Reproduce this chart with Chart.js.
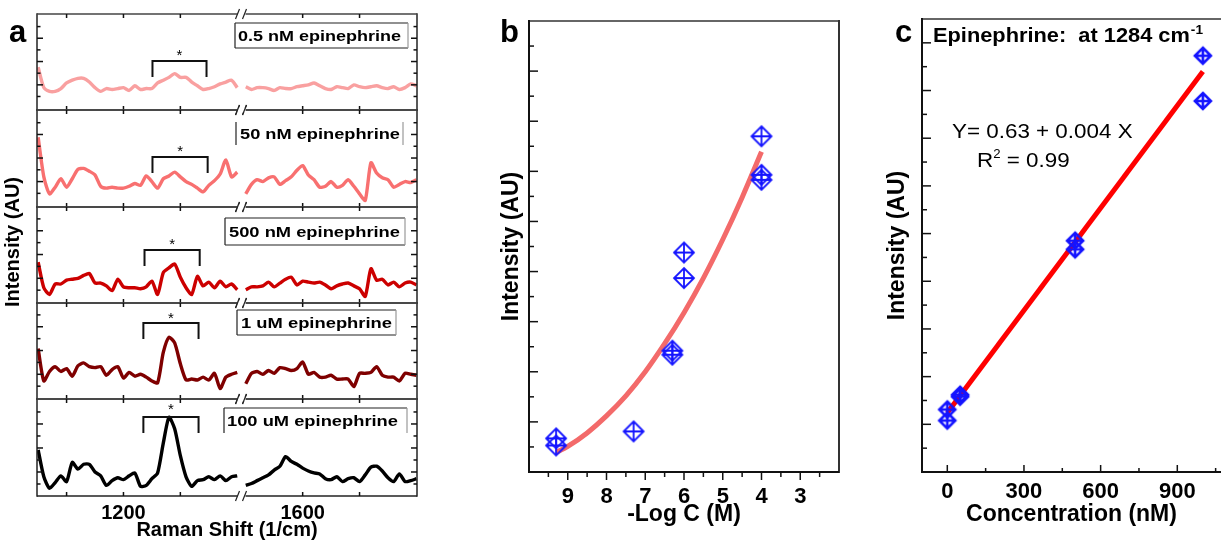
<!DOCTYPE html>
<html>
<head>
<meta charset="utf-8">
<script src="https://cdn.jsdelivr.net/npm/chart.js@4.4.1/dist/chart.umd.min.js"></script>
<style>
  html, body { margin: 0; padding: 0; background: #fff; }
  body { width: 1230px; height: 543px; position: relative; overflow: hidden;
         font-family: Arial, "Liberation Sans", sans-serif; }
  canvas { position: absolute; }
  .tag { position: absolute; z-index: 5; font-weight: bold; font-size: 31px; line-height: 30px; color: #000; }
  .ytitle { position: absolute; z-index: 5; font-weight: bold; font-size: 20px; white-space: nowrap;
            transform: translate(-50%, -50%) rotate(-90deg); }
</style>
</head>
<body>
<div class="tag" style="left:9px;top:17px">a</div>
<div class="tag" style="left:500px;top:17px">b</div>
<div class="tag" style="left:895px;top:17px">c</div>
<div class="ytitle" style="left:12px;top:242px">Intensity (AU)</div>

<script>
Chart.defaults.font.family = 'Arial, "Liberation Sans", sans-serif';
Chart.defaults.color = '#000';

// ---------- panel a : Raman spectra (intensity in % of each sub-panel height) ----------
const shiftLeft = [1050, 1060, 1070, 1080, 1090, 1100, 1110, 1120, 1130, 1140, 1150, 1160,
  1170, 1180, 1190, 1200, 1210, 1220, 1230, 1240, 1250, 1260, 1270, 1280, 1290, 1300,
  1310, 1320, 1330, 1340, 1350, 1360, 1370, 1380, 1390, 1400];
const shiftRight = [1500, 1510, 1520, 1530, 1540, 1550, 1560, 1570, 1580, 1590, 1600,
  1610, 1620, 1630, 1640, 1650, 1660, 1670, 1680, 1690, 1700, 1710, 1720, 1730, 1740,
  1750, 1760, 1770, 1780, 1790, 1800];
const ramanTickLabels = [1200, 1600];
const ramanMinorTicks = [1100, 1300, 1700];

const spec05nM_L = [44, 22, 18, 18, 21, 27, 30, 32, 32, 28, 22, 18, 21, 20, 21, 22, 19, 24,
  20, 21, 21, 27, 30, 33, 37, 33, 33, 28, 24, 20, 21, 23, 26, 28, 30, 22];
const spec05nM_R = [23, 20, 22, 22, 21, 19, 22, 21, 21, 23, 24, 25, 27, 24, 21, 20, 23, 22,
  21, 25, 23, 22, 23, 24, 22, 21, 23, 20, 22, 26, 24];
const spec50nM_L = [72, 30, 12, 19, 28, 19, 28, 38, 39, 36, 32, 20, 18, 19, 18, 18, 20, 23,
  21, 31, 25, 18, 28, 31, 35, 30, 25, 22, 18, 14, 21, 26, 33, 48, 30, 35];
const spec50nM_R = [12, 22, 27, 25, 29, 30, 22, 26, 30, 37, 42, 32, 27, 19, 20, 25, 19, 21,
  27, 20, 12, 5, 45, 34, 29, 27, 19, 22, 25, 24, 27];
const spec500nM_L = [42, 15, 8, 19, 19, 23, 24, 25, 28, 30, 20, 20, 17, 12, 24, 16, 15, 15,
  14, 16, 22, 8, 31, 36, 40, 26, 15, 8, 27, 17, 21, 15, 22, 16, 19, 13];
const spec500nM_R = [13, 16, 16, 17, 21, 16, 20, 24, 26, 18, 22, 21, 20, 21, 18, 14, 17, 19,
  20, 17, 14, 6, 35, 23, 24, 18, 21, 16, 20, 21, 18];
const spec1uM_L = [52, 18, 28, 33, 28, 31, 23, 34, 37, 33, 32, 33, 24, 30, 33, 21, 27, 23,
  25, 22, 18, 16, 48, 64, 58, 36, 19, 20, 19, 22, 19, 26, 10, 22, 25, 27];
const spec1uM_R = [15, 26, 28, 25, 29, 26, 32, 31, 29, 31, 38, 25, 27, 22, 22, 24, 20, 20,
  20, 12, 26, 26, 27, 33, 24, 22, 22, 18, 26, 25, 24];
const spec100uM_L = [48, 20, 8, 14, 21, 15, 35, 28, 33, 33, 25, 21, 11, 16, 19, 17, 21, 24,
  10, 11, 18, 24, 55, 82, 70, 42, 20, 10, 16, 17, 20, 17, 21, 16, 20, 21];
const spec100uM_R = [11, 13, 16, 19, 22, 27, 31, 41, 36, 33, 29, 26, 24, 23, 18, 17, 20, 15,
  18, 19, 15, 22, 30, 31, 26, 19, 15, 23, 15, 16, 18];

const spectraLabels = ['0.5 nM epinephrine', '50 nM epinephrine', '500 nM epinephrine',
  '1 uM epinephrine', '100 uM epinephrine'];
const spectraLeft = [spec05nM_L, spec50nM_L, spec500nM_L, spec1uM_L, spec100uM_L];
const spectraRight = [spec05nM_R, spec50nM_R, spec500nM_R, spec1uM_R, spec100uM_R];
const spectraColors = ['#f9a0a0', '#f87070', '#cc0000', '#7f0000', '#000000'];

// ---------- panel b ----------
const negLogC = [9.3, 9.3, 7.3, 6.3, 6.3, 6.0, 6.0, 4.0, 4.0, 4.0];
const intensityB = [0.67, 0.53, 0.81, 2.42, 2.34, 4.38, 3.87, 6.70, 5.93, 5.83];
const fitB_x = [9.3, 9.0, 8.5, 8.0, 7.5, 7.0, 6.5, 6.0, 5.5, 5.0, 4.5, 4.0];
const fitB_y = [0.39, 0.51, 0.78, 1.12, 1.52, 2.00, 2.56, 3.18, 3.87, 4.64, 5.48, 6.39];
const logTicks = [9, 8, 7, 6, 5, 4, 3];

// ---------- panel c ----------
const concNM = [0, 0, 50, 50, 500, 500, 1000, 1000];
const intensityC = [1.31, 1.08, 1.62, 1.58, 4.85, 4.67, 8.73, 7.78];
const fitC_x = [0, 1000];
const fitC_y = [1.24, 8.40];
const concTicks = [0, 300, 600, 900];

// axis break for panel a: everything above 1450 cm-1 is shifted left by 85
const BREAK_W = 1450, BREAK_SHIFT = 85, BREAK_P = 1407.5;
const toAxis = w => (w > BREAK_W ? w - BREAK_SHIFT : w);
const fromAxis = p => (p > BREAK_P ? p + BREAK_SHIFT : p);

function addCanvas(left, top, w, h) {
  const c = document.createElement('canvas');
  c.width = w; c.height = h;
  c.style.left = left + 'px'; c.style.top = top + 'px';
  c.style.width = w + 'px'; c.style.height = h + 'px';
  document.body.appendChild(c);
  return c;
}

// borders + tick marks drawn from the chart's own scales
function frame(cfg) {
  return {
    id: 'frame',
    afterDraw(chart) {
      const { ctx, chartArea: a } = chart;
      ctx.save();
      ctx.lineCap = 'butt';
      cfg.borders.forEach(([side, color, w]) => {
        ctx.strokeStyle = color; ctx.lineWidth = w;
        ctx.beginPath();
        if (side === 'left') { ctx.moveTo(a.left, a.top - w / 2); ctx.lineTo(a.left, a.bottom + w / 2); }
        if (side === 'right') { ctx.moveTo(a.right, a.top - w / 2); ctx.lineTo(a.right, a.bottom + w / 2); }
        if (side === 'top') { ctx.moveTo(a.left, a.top); ctx.lineTo(a.right, a.top); }
        if (side === 'bottom') { ctx.moveTo(a.left, a.bottom); ctx.lineTo(a.right, a.bottom); }
        ctx.stroke();
      });
      ctx.strokeStyle = '#111';
      cfg.ticks.forEach(t => {
        const sc = chart.scales[t.axis];
        ctx.lineWidth = t.w || 1.5;
        t.values.forEach(v => {
          const p = sc.getPixelForValue(v);
          ctx.beginPath();
          if (t.side === 'bottom') { ctx.moveTo(p, a.bottom); ctx.lineTo(p, a.bottom + t.len); }
          if (t.side === 'top') { ctx.moveTo(p, a.top); ctx.lineTo(p, a.top - t.len); }
          if (t.side === 'left') { ctx.moveTo(a.left, p); ctx.lineTo(a.left - t.len, p); }
          if (t.side === 'right') { ctx.moveTo(a.right, p); ctx.lineTo(a.right + t.len, p); }
          ctx.stroke();
        });
      });
      if (cfg.extra) cfg.extra(chart, ctx, a);
      ctx.restore();
    }
  };
}

function stretchText(ctx, str, x, y, font, sx) {
  ctx.save();
  ctx.font = font;
  ctx.translate(x, y);
  ctx.scale(sx, 1);
  ctx.fillText(str, 0, 0);
  const w = ctx.measureText(str).width * sx;
  ctx.restore();
  return w;
}

function drawBreak(ctx, x, y) {
  ctx.fillStyle = '#fff';
  ctx.fillRect(x - 4, y - 2, 8, 4);
  ctx.strokeStyle = '#222'; ctx.lineWidth = 1.2;
  ctx.beginPath();
  ctx.moveTo(x - 6, y + 5); ctx.lineTo(x - 2, y - 5);
  ctx.moveTo(x + 1, y + 5); ctx.lineTo(x + 5, y - 5);
  ctx.stroke();
}

// ---------- build panel a ----------
// sub-panel geometry (page px) and decorations
const aLayout = [
  { top: 14,  bottom: 110, yMin: -2, yMax: 101, box: [235, 9, 173, 25],  sides: 'tblr', textX: 238, textW: 163, br: [1251, 1346, 47, 63, 38] },
  { top: 110, bottom: 207, yMin: -2, yMax: 101, box: [236, 12, 167, 23], sides: 'lr',   textX: 240, textW: 160, br: [1251, 1348, 47, 63, 38] },
  { top: 207, bottom: 303, yMin: -1, yMax: 100, box: [225, 11, 180, 27], sides: 'tblr', textX: 229, textW: 171, br: [1237, 1334, 43, 59, 34] },
  { top: 303, bottom: 399, yMin: -1, yMax: 100, box: [237, 7, 159, 25],  sides: 'tblr', textX: 241, textW: 151, br: [1235, 1332, 20, 36, 12] },
  { top: 399, bottom: 496, yMin: 0,  yMax: 101, box: [224, 9, 183, 25],  sides: 'tlr',  textX: 227, textW: 171, br: [1235, 1332, 18, 34, 7] }
];
const yTicksMajorA = [25, 50, 75];
const yTicksMinorA = [12.5, 37.5, 62.5, 87.5];

aLayout.forEach((L, i) => {
  const last = i === aLayout.length - 1;
  const padT = 6, padB = last ? 0 : 6, axisH = last ? 47 : 0;
  const h = (L.bottom - L.top) + padT + padB + axisH;
  const canvas = addCanvas(0, L.top - padT, 425, h);

  const pts = shiftLeft.map((w, k) => ({ x: toAxis(w), y: spectraLeft[i][k] }));
  pts.push({ x: BREAK_P, y: null });
  shiftRight.forEach((w, k) => pts.push({ x: toAxis(w), y: spectraRight[i][k] }));

  new Chart(canvas, {
    type: 'line',
    data: { datasets: [{
      data: pts, borderColor: spectraColors[i], borderWidth: 3.4, pointRadius: 0,
      tension: 0.22, spanGaps: false, borderJoinStyle: 'round'
    }]},
    options: {
      responsive: false, animation: false, events: [], devicePixelRatio: 1,
      layout: { padding: { left: 37, right: 8, top: padT, bottom: padB } },
      plugins: { legend: { display: false }, tooltip: { enabled: false } },
      scales: {
        x: {
          type: 'linear', min: 1048, max: 1716, display: last,
          grid: { display: false, drawTicks: false }, border: { display: false },
          afterBuildTicks: s => { s.ticks = ramanTickLabels.map(w => ({ value: toAxis(w) })); },
          afterFit: s => { s.height = axisH; },
          ticks: { font: { size: 20, weight: 'bold' }, color: '#000', padding: 5,
                   autoSkip: false, maxRotation: 0, callback: v => String(fromAxis(v)) },
          title: { display: true, text: 'Raman Shift (1/cm)', color: '#000',
                   font: { size: 20, weight: 'bold' }, padding: { top: 0, bottom: 1 } }
        },
        y: { min: L.yMin, max: L.yMax, display: false }
      }
    },
    plugins: [frame({
      borders: [['left', '#222', 1.5], ['right', '#222', 1.5], ['top', '#444', 1.5], ['bottom', '#222', 1.5]],
      ticks: [
        { axis: 'x', side: 'top', len: -4, values: ramanTickLabels.concat(ramanMinorTicks).map(toAxis) },
        { axis: 'x', side: 'bottom', len: -4, values: ramanTickLabels.concat(ramanMinorTicks).map(toAxis) },
        { axis: 'y', side: 'left', len: -6, values: yTicksMajorA },
        { axis: 'y', side: 'left', len: -3.5, values: yTicksMinorA },
        { axis: 'y', side: 'right', len: -6, values: yTicksMajorA },
        { axis: 'y', side: 'right', len: -3.5, values: yTicksMinorA }
      ],
      extra: (chart, ctx, a) => {
        const xs = chart.scales.x;
        const bx = xs.getPixelForValue(BREAK_P);
        drawBreak(ctx, bx, a.top);
        drawBreak(ctx, bx, a.bottom);
        // label box
        const [x0, yOff, bw, bh] = L.box;
        const left = x0, top = a.top + yOff;
        ctx.strokeStyle = '#222'; ctx.lineWidth = 1.2;
        ctx.beginPath();
        if (L.sides.includes('t')) { ctx.moveTo(left, top); ctx.lineTo(left + bw, top); }
        if (L.sides.includes('b')) { ctx.moveTo(left, top + bh); ctx.lineTo(left + bw, top + bh); }
        if (L.sides.includes('l')) { ctx.moveTo(left, top); ctx.lineTo(left, top + bh); }
        ctx.stroke();
        if (L.sides.includes('r')) {
          ctx.strokeStyle = '#999';
          ctx.beginPath(); ctx.moveTo(left + bw, top); ctx.lineTo(left + bw, top + bh); ctx.stroke();
        }
        ctx.fillStyle = '#000';
        ctx.textBaseline = 'middle';
        ctx.font = 'bold 15px Arial, "Liberation Sans", sans-serif';
        const natural = ctx.measureText(spectraLabels[i]).width;
        stretchText(ctx, spectraLabels[i], L.textX, top + bh / 2 + 1,
          'bold 15px Arial, "Liberation Sans", sans-serif', L.textW / natural);
        // bracket with star
        const [w0, w1, yTop, yEnd, yStar] = L.br;
        const p0 = xs.getPixelForValue(toAxis(w0)), p1 = xs.getPixelForValue(toAxis(w1));
        ctx.strokeStyle = '#111'; ctx.lineWidth = 2;
        ctx.beginPath();
        ctx.moveTo(p0, a.top + yEnd); ctx.lineTo(p0, a.top + yTop);
        ctx.lineTo(p1, a.top + yTop); ctx.lineTo(p1, a.top + yEnd);
        ctx.stroke();
        ctx.textBaseline = 'alphabetic'; ctx.textAlign = 'center';
        ctx.font = '15px Arial, "Liberation Sans", sans-serif';
        ctx.fillText('*', (p0 + p1) / 2, a.top + yStar + 8);
        ctx.textAlign = 'left';
      }
    })]
  });
});

// ---------- markers ----------
function makeMarker(r, lw) {
  const c = document.createElement('canvas');
  const s = 2 * r + 6;
  c.width = s; c.height = s;
  const g = c.getContext('2d');
  const m = s / 2;
  g.strokeStyle = '#1414ff'; g.lineWidth = lw;
  g.beginPath();
  g.moveTo(m, m - r); g.lineTo(m + r, m); g.lineTo(m, m + r); g.lineTo(m - r, m); g.closePath();
  g.moveTo(m - r, m); g.lineTo(m + r, m);
  g.moveTo(m, m - r); g.lineTo(m, m + r);
  g.stroke();
  return c;
}

// ---------- panel b ----------
const canvasB = addCanvas(495, 10, 355, 533);
new Chart(canvasB, {
  type: 'scatter',
  data: { datasets: [
    { type: 'line', data: fitB_x.map((x, k) => ({ x, y: fitB_y[k] })), borderColor: '#f36a6a',
      borderWidth: 5, pointRadius: 0, tension: 0.4, order: 2 },
    { data: negLogC.map((x, k) => ({ x, y: intensityB[k] })), pointStyle: makeMarker(10, 1.8),
      pointRadius: 10, order: 1 }
  ]},
  options: {
    responsive: false, animation: false, events: [], devicePixelRatio: 1,
    layout: { padding: { left: 0, right: 6, top: 4, bottom: 0 } },
    plugins: { legend: { display: false }, tooltip: { enabled: false } },
    scales: {
      x: {
        type: 'linear', reverse: true, min: 2, max: 10,
        grid: { display: false, drawTicks: false }, border: { display: false },
        afterBuildTicks: s => { s.ticks = logTicks.map(v => ({ value: v })); },
        afterFit: s => { s.height = 71; },
        ticks: { font: { size: 22, weight: 'bold' }, color: '#000', padding: 12, autoSkip: false, maxRotation: 0 },
        title: { display: true, text: '-Log C (M)', color: '#000', font: { size: 23, weight: 'bold' },
                 padding: { top: 0, bottom: 15 } }
      },
      y: {
        min: 0, max: 9,
        grid: { display: false, drawTicks: false }, border: { display: false }, ticks: { display: false },
        afterFit: s => { s.width = 34; },
        title: { display: true, text: 'Intensity (AU)', color: '#000', font: { size: 23, weight: 'bold' },
                 padding: { top: 3, bottom: 0 } }
      }
    }
  },
  plugins: [frame({
    borders: [['top', '#666', 2], ['right', '#333', 2], ['left', '#111', 2], ['bottom', '#111', 2]],
    ticks: [
      { axis: 'x', side: 'bottom', len: 8, values: [9, 8, 7, 6, 5, 4, 3] },
      { axis: 'x', side: 'bottom', len: 5, values: [9.5, 8.5, 7.5, 6.5, 5.5, 4.5, 3.5, 2.5] },
      { axis: 'y', side: 'left', len: -9, values: [1, 2, 3, 4, 5, 6, 7, 8] },
      { axis: 'y', side: 'left', len: -5, values: [0.5, 1.5, 2.5, 3.5, 4.5, 5.5, 6.5, 7.5, 8.5] }
    ]
  })]
});

// ---------- panel c ----------
const canvasC = addCanvas(880, 10, 350, 533);
new Chart(canvasC, {
  type: 'scatter',
  data: { datasets: [
    { type: 'line', data: fitC_x.map((x, k) => ({ x, y: fitC_y[k] })), borderColor: '#ff0000',
      borderWidth: 5, pointRadius: 0, order: 2 },
    { data: concNM.map((x, k) => ({ x, y: intensityC[k] })), pointStyle: makeMarker(8, 2.6),
      pointRadius: 8, order: 1 }
  ]},
  options: {
    responsive: false, animation: false, events: [], devicePixelRatio: 1,
    layout: { padding: { left: 0, right: 0, top: 4, bottom: 0 } },
    plugins: { legend: { display: false }, tooltip: { enabled: false } },
    scales: {
      x: {
        type: 'linear', min: -99, max: 1071,
        grid: { display: false, drawTicks: false }, border: { display: false },
        afterBuildTicks: s => { s.ticks = concTicks.map(v => ({ value: v })); },
        afterFit: s => { s.height = 71; },
        ticks: { font: { size: 22, weight: 'bold' }, color: '#000', padding: 7, autoSkip: false, maxRotation: 0 },
        title: { display: true, text: 'Concentration (nM)', color: '#000', font: { size: 23, weight: 'bold' },
                 padding: { top: 0, bottom: 15 } }
      },
      y: {
        min: 0, max: 9.5,
        grid: { display: false, drawTicks: false }, border: { display: false }, ticks: { display: false },
        afterFit: s => { s.width = 42; },
        title: { display: true, text: 'Intensity (AU)', color: '#000', font: { size: 23, weight: 'bold' },
                 padding: { top: 4, bottom: 0 } }
      }
    }
  },
  plugins: [frame({
    borders: [['top', '#666', 2], ['left', '#111', 2], ['bottom', '#111', 2]],
    ticks: [
      { axis: 'x', side: 'bottom', len: -7, values: [0, 300, 600, 900] },
      { axis: 'x', side: 'bottom', len: -4, values: [150, 450, 750, 1050] },
      { axis: 'y', side: 'left', len: -9, values: [1, 2, 3, 4, 5, 6, 7, 8, 9] },
      { axis: 'y', side: 'left', len: -5, values: [0.5, 1.5, 2.5, 3.5, 4.5, 5.5, 6.5, 7.5, 8.5] }
    ],
    extra: (chart, ctx) => {
      ctx.save();
      ctx.translate(-880, -10); // page coordinates
      ctx.fillStyle = '#000';
      ctx.textBaseline = 'alphabetic';
      const w1 = stretchText(ctx, 'Epinephrine:  at 1284 cm', 933, 42,
        'bold 20px Arial, "Liberation Sans", sans-serif', 1.09);
      stretchText(ctx, '-1', 933 + w1 + 1, 34, 'bold 13px Arial, "Liberation Sans", sans-serif', 1.05);
      stretchText(ctx, 'Y= 0.63 + 0.004 X', 952, 138, '20px Arial, "Liberation Sans", sans-serif', 1.12);
      const wr = stretchText(ctx, 'R', 977, 167, '20px Arial, "Liberation Sans", sans-serif', 1.12);
      const w2 = stretchText(ctx, '2', 977 + wr, 158, '12px Arial, "Liberation Sans", sans-serif', 1.1);
      stretchText(ctx, ' = 0.99', 977 + wr + w2, 167, '20px Arial, "Liberation Sans", sans-serif', 1.12);
      ctx.restore();
    }
  })]
});
</script>
</body>
</html>
